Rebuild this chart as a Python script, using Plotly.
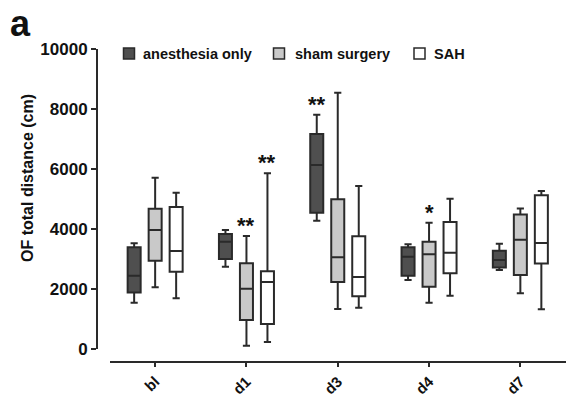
import plotly.graph_objects as go

# Open-field total distance per time point, summarised as box plots
days = ["bl", "d1", "d3", "d4", "d7"]

anesthesia_low = [1545, 2744, 4278, 2300, 2630]
anesthesia_q1 = [1880, 3000, 4544, 2444, 2720]
anesthesia_median = [2445, 3578, 6133, 3078, 2967]
anesthesia_q3 = [3390, 3833, 7167, 3389, 3278]
anesthesia_high = [3523, 3967, 7811, 3489, 3510]

sham_low = [2056, 111, 1333, 1544, 1856]
sham_q1 = [2945, 967, 2233, 2078, 2470]
sham_median = [3967, 2011, 3056, 3156, 3640]
sham_q3 = [4678, 2856, 4989, 3578, 4485]
sham_high = [5711, 3767, 8544, 4211, 4685]

sah_low = [1689, 233, 1378, 1778, 1322]
sah_q1 = [2578, 833, 1756, 2522, 2850]
sah_median = [3267, 2233, 2400, 3211, 3530]
sah_q3 = [4733, 2589, 3756, 4233, 5128]
sah_high = [5211, 5856, 5433, 5011, 5267]

group_names = ["anesthesia only", "sham surgery", "SAH"]

# significance marks: group, day, label
sig_group = ["anesthesia only", "sham surgery", "SAH", "sham surgery"]
sig_day = ["d3", "d1", "d1", "d4"]
sig_text = ["**", "**", "**", "*"]

y_ticks = [0, 2000, 4000, 6000, 8000, 10000]
y_tick_text = ["0", "2000", "4000", "6000", "8000", "10000"]

# ---- styling / layout -------------------------------------------------
W, H = 566, 397
L, R, T, B = 97, 0, 49, 35
FONT = "Liberation Sans, Arial, sans-serif"
INK = "#2a2a2a"
TEXT = "#111111"
fills = {"anesthesia only": "#4f4f4f", "sham surgery": "#c9c9c9", "SAH": "#ffffff"}
BOXGAP = 0.31
BOXGROUPGAP = 0.38


def paper_x(px):
    return (px - L) / (W - L - R)


def paper_y(py):
    return (H - B - py) / (H - T - B)


stats = {
    "anesthesia only": (anesthesia_low, anesthesia_q1, anesthesia_median, anesthesia_q3, anesthesia_high),
    "sham surgery": (sham_low, sham_q1, sham_median, sham_q3, sham_high),
    "SAH": (sah_low, sah_q1, sah_median, sah_q3, sah_high),
}

fig = go.Figure()
for name in group_names:
    lo, q1, med, q3, hi = stats[name]
    fig.add_trace(go.Box(
        name=name,
        x=days,
        lowerfence=lo, q1=q1, median=med, q3=q3, upperfence=hi,
        fillcolor=fills[name],
        line=dict(color=INK, width=2),
        whiskerwidth=0.55,
        boxpoints=False,
        showlegend=False,
        hoverinfo="skip",
    ))

annotations = []

# significance asterisks above the upper whisker
for g, d, txt in zip(sig_group, sig_day, sig_text):
    gi = group_names.index(g)
    di = days.index(d)
    offset = (gi - 1) * (1 - BOXGAP) / len(group_names)
    annotations.append(dict(
        x=di + offset, y=stats[g][4][di], xref="x", yref="y",
        text="<b>%s</b>" % txt, showarrow=False, xanchor="center", yanchor="bottom",
        yshift=-4,
        font=dict(family=FONT, size=22, color=TEXT),
    ))

# y-axis title
annotations.append(dict(
    x=paper_x(27), y=paper_y(178), xref="paper", yref="paper",
    text="<b>OF total distance (cm)</b>", textangle=-90, showarrow=False,
    xanchor="center", yanchor="middle",
    font=dict(family=FONT, size=16, color=TEXT),
))

# panel letter
annotations.append(dict(
    x=paper_x(8), y=paper_y(24), xref="paper", yref="paper",
    text="<b>a</b>", showarrow=False, xanchor="left", yanchor="middle",
    font=dict(family=FONT, size=36, color=TEXT),
))

# legend drawn as squares + labels
shapes = []
legend_square_cx = [129, 279, 419.5]
legend_text_x = [141, 292.5, 432]
legend_cy = 53.5
for name, cx, tx in zip(group_names, legend_square_cx, legend_text_x):
    shapes.append(dict(
        type="rect", xref="paper", yref="paper",
        x0=paper_x(cx - 5.5), x1=paper_x(cx + 5.5),
        y0=paper_y(legend_cy + 5.5), y1=paper_y(legend_cy - 5.5),
        fillcolor=fills[name], line=dict(color=INK, width=1.5),
    ))
    annotations.append(dict(
        x=paper_x(tx), y=paper_y(legend_cy), xref="paper", yref="paper",
        text="<b>%s</b>" % name, showarrow=False, xanchor="left", yanchor="middle",
        font=dict(family=FONT, size=14.5, color=TEXT),
    ))

fig.update_layout(
    width=W, height=H,
    margin=dict(l=L, r=R, t=T, b=B, autoexpand=False),
    paper_bgcolor="white", plot_bgcolor="white",
    font=dict(family=FONT, size=15, color=TEXT),
    boxmode="group", boxgap=BOXGAP, boxgroupgap=BOXGROUPGAP,
    showlegend=False,
    annotations=annotations,
    shapes=shapes,
    xaxis=dict(
        type="category", categoryorder="array", categoryarray=days,
        range=[-0.5, len(days) - 0.5],
        domain=[paper_x(109.5), 1],
        anchor="free", position=0,
        showline=True, linecolor=INK, linewidth=2,
        ticks="outside", ticklen=4, tickwidth=1.5, tickcolor=INK,
        tickangle=-45,
        tickvals=days, ticktext=["<b>%s</b>" % d for d in days],
        tickfont=dict(family=FONT, size=15, color=TEXT),
        showgrid=False, zeroline=False,
    ),
    yaxis=dict(
        range=[0, 10000],
        domain=[paper_y(349), 1],
        anchor="free", position=0,
        tickvals=y_ticks, ticktext=["<b>%s</b>" % t for t in y_tick_text],
        showline=True, linecolor=INK, linewidth=2,
        ticks="outside", ticklen=5, tickwidth=2, tickcolor=INK,
        tickfont=dict(family=FONT, size=17, color=TEXT),
        showgrid=False, zeroline=False,
    ),
)

fig.write_html("out.html")
